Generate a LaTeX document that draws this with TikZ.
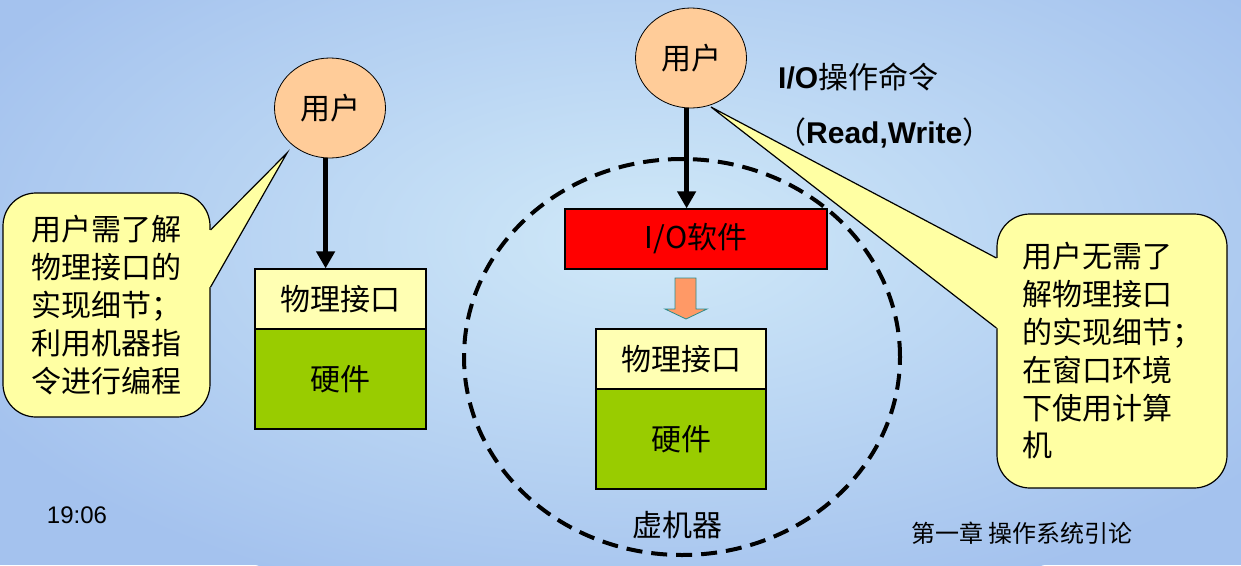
\documentclass[tikz,border=0pt]{standalone}
\usepackage{fontspec}
\setmainfont{Liberation Sans}
\newfontfamily\cjk{Noto Sans CJK SC}
\usetikzlibrary{shapes.geometric,arrows.meta,calc}
\definecolor{peach}{HTML}{FFCC99}
\definecolor{ifyellow}{HTML}{FFFFB3}
\definecolor{hwgreen}{HTML}{99CC00}
\definecolor{callfill}{HTML}{FFFFA3}
\definecolor{orangearr}{HTML}{FF9966}
\definecolor{tealedge}{HTML}{2E8B8B}
\definecolor{bgA}{HTML}{A4C2EE}
\definecolor{bgLight}{HTML}{D0E9F8}
\tikzset{
  usr/.style={ellipse, draw=black, line width=0.8pt, fill=peach,
    minimum width=111pt, minimum height=100pt, inner sep=0pt,
    font={\fontsize{30}{36}\selectfont\cjk}},
  ifbox/.style={rectangle, draw=black, line width=1.2pt, fill=ifyellow,
    minimum width=171pt, minimum height=60pt, inner sep=0pt,
    font={\fontsize{30}{36}\selectfont\cjk}},
  hwbox/.style={ifbox, fill=hwgreen, minimum height=100pt},
  iobox/.style={ifbox, fill=red, minimum width=262pt},
  callbox/.style={rectangle, rounded corners=33pt, draw=black, line width=1.2pt,
    fill=callfill, inner sep=0pt, align=left,
    font={\fontsize{30}{37.8}\selectfont\cjk}},
  ptrfill/.style={fill=callfill},
  ptrline/.style={draw=black, line width=1.2pt, line join=miter},
  blackarrow/.style={draw=black, line width=4.5pt,
    -{Triangle[length=17pt,width=18pt]}},
  vmring/.style={ellipse, draw=black, line width=4pt,
    dash pattern=on 16pt off 9pt, minimum width=436pt, minimum height=396pt},
  plain/.style={inner sep=0pt},
}
\begin{document}
\begin{tikzpicture}[x=1pt,y=-1pt]
\useasboundingbox (0,0) rectangle (1241,565);
% background
\begin{scope}
  \clip (0,0) rectangle (1241,565);
  \fill[bgA] (0,0) rectangle (1241,565);
  \shade[inner color=bgLight, outer color=bgA] (650,240) ellipse [x radius=760, y radius=380];
\end{scope}

% callout boxes
\node[callbox, minimum width=207pt, minimum height=224pt] (c1) at (106.5,305)
  {用户需了解\\物理接口的\\实现细节；\\利用机器指\\令进行编程};
\node[callbox, minimum width=230pt, minimum height=274pt] (c2) at (1112,351)
  {用户无需了\\解物理接口\\的实现细节；\\在窗口环境\\下使用计算\\机};

\coordinate (t1) at (287,153);
\coordinate (t2) at (711,107);
% pointers
\fill[ptrfill] ([yshift=75pt]c1.east) -- (t1) -- ([yshift=18pt]c1.east)
  -- ([yshift=18pt,xshift=-3pt]c1.east) -- ([yshift=75pt,xshift=-3pt]c1.east) -- cycle;
\draw[ptrline] ([yshift=75pt]c1.east) -- (t1) -- ([yshift=18pt]c1.east);
\fill[ptrfill] ([yshift=93pt]c2.west) -- (t2) -- ([yshift=23pt]c2.west)
  -- ([yshift=23pt,xshift=3pt]c2.west) -- ([yshift=93pt,xshift=3pt]c2.west) -- cycle;
\draw[ptrline] ([yshift=93pt]c2.west) -- (t2) -- ([yshift=23pt]c2.west);

% virtual machine ring
\node[vmring] (vm) at (682,357) {};
\node[plain, font={\fontsize{30}{36}\selectfont\cjk}] (vml) at (677,525) {虚机器};

% left stack
\node[usr] (u1) at (330,108) {用户};
\node[ifbox] (pi1) at (340.5,299) {物理接口};
\node[hwbox] (hw1) at (340.5,379) {硬件};
\draw[blackarrow] (u1.-95) -- (u1.-95 |- pi1.north);

% right stack
\node[usr] (u2) at (691,58) {用户};
\node[iobox] (io) at (696,239) {I/O{\cjk 软件}};
\node[ifbox, minimum width=170pt] (pi2) at (681,359) {物理接口};
\node[hwbox, minimum width=170pt] (hw2) at (681,439) {硬件};
\draw[blackarrow] (u2.-95) -- (u2.-95 |- io.north);

% orange block arrow between I/O software and interface
\fill[orangearr, draw=tealedge, line width=0.8pt]
  (675,278) -- (696,278) -- (696,309) -- (707,309) -- (686,319)
  -- (665,309) -- (675,309) -- cycle;

% labels
\node[plain, anchor=west, font={\fontsize{30}{36}\selectfont}] (cmd) at (778,77)
  {{\bfseries I/O}{\cjk 操作命令}};
\node[plain, anchor=west, font={\fontsize{30}{36}\selectfont}] (rw) at (776,133)
  {{\cjk （}{\bfseries Read,Write}{\cjk ）}};

\node[plain, font={\fontsize{24}{28}\selectfont}] (time) at (77,515) {19:06};
\node[plain, font={\fontsize{24}{28}\selectfont\cjk}] (foot) at (1022,533) {第一章 操作系统引论};
\end{tikzpicture}
\end{document}
